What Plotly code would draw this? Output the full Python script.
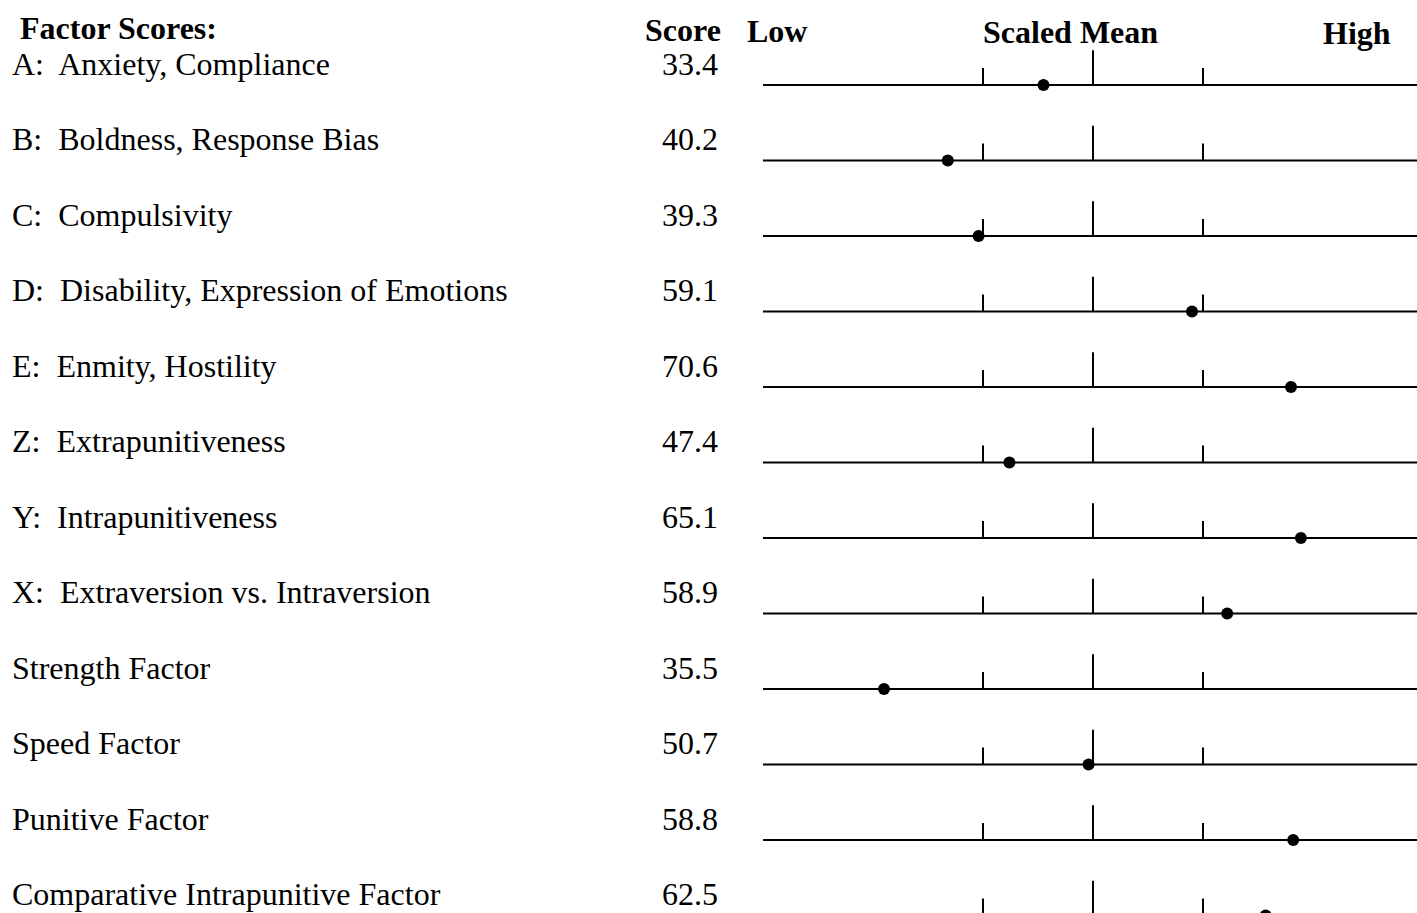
import plotly.graph_objects as go

# ---- data ----
labels = [
    "A:  Anxiety, Compliance",
    "B:  Boldness, Response Bias",
    "C:  Compulsivity",
    "D:  Disability, Expression of Emotions",
    "E:  Enmity, Hostility",
    "Z:  Extrapunitiveness",
    "Y:  Intrapunitiveness",
    "X:  Extraversion vs. Intraversion",
    "Strength Factor",
    "Speed Factor",
    "Punitive Factor",
    "Comparative Intrapunitive Factor",
]
scores = [33.4, 40.2, 39.3, 59.1, 70.6, 47.4, 65.1, 58.9, 35.5, 50.7, 58.8, 62.5]
scaled = [-0.45, -1.32, -1.04, 0.90, 1.80, -0.76, 1.89, 1.22, -1.90, -0.04, 1.82, 1.57]
tick_positions = [-1, 0, 1]
headers = ["Factor Scores:", "Score", "Low", "Scaled Mean", "High"]

W, H = 1417, 913
PX_PER_UNIT = 110.0   # pixels per scaled unit
CENTER_PX = 1093.0
ROW0_PX = 85.0
ROW_PX = 75.5

n = len(labels)
rows = list(range(n))

fig = go.Figure()

# baselines
lx, ly = [], []
for r in rows:
    lx += [-3.0, 3.2, None]
    ly += [r, r, None]
fig.add_trace(go.Scatter(x=lx, y=ly, mode="lines",
                         line=dict(color="black", width=2), hoverinfo="skip"))

# ticks
tx, ty = [], []
for r in rows:
    for t in tick_positions:
        h = 0.46 if t == 0 else 0.225
        tx += [t, t, None]
        ty += [r, r - h, None]
fig.add_trace(go.Scatter(x=tx, y=ty, mode="lines",
                         line=dict(color="black", width=2), hoverinfo="skip"))

# dots
fig.add_trace(go.Scatter(x=scaled, y=rows, mode="markers",
                         marker=dict(color="black", size=12), hoverinfo="skip"))

serif = "Liberation Serif, Times New Roman, serif"
ann = []
for r, (lab, sc) in enumerate(zip(labels, scores)):
    ann.append(dict(x=10 / W, xref="paper", y=r - 0.28, yref="y", text=lab,
                    showarrow=False, xanchor="left", yanchor="middle",
                    font=dict(family=serif, size=32, color="black")))
    ann.append(dict(x=720 / W, xref="paper", y=r - 0.28, yref="y", text=f"{sc:.1f}",
                    showarrow=False, xanchor="right", yanchor="middle",
                    font=dict(family=serif, size=32, color="black")))

hdr_pos = [(18, "left"), (723, "right"), (745, "left"), (1070, "center"), (1393, "right")]
hdr_y = [28, 30, 31, 32, 33]
for txt, (px, anc), py in zip(headers, hdr_pos, hdr_y):
    ann.append(dict(x=px / W, xref="paper", y=1 - py / H, yref="paper",
                    text=f"<b>{txt}</b>", showarrow=False, xanchor=anc,
                    yanchor="middle",
                    font=dict(family=serif, size=32, color="black")))

fig.update_layout(
    width=W, height=H,
    margin=dict(l=0, r=0, t=0, b=0),
    paper_bgcolor="white", plot_bgcolor="white",
    showlegend=False,
    annotations=ann,
    xaxis=dict(range=[-CENTER_PX / PX_PER_UNIT, (W - CENTER_PX) / PX_PER_UNIT],
               visible=False, fixedrange=True),
    yaxis=dict(range=[(H - ROW0_PX) / ROW_PX, -ROW0_PX / ROW_PX],
               visible=False, fixedrange=True),
)

fig.write_html("out.html", config={"displayModeBar": False},
               post_script="document.body.style.margin='0';document.body.style.overflow='hidden';")
